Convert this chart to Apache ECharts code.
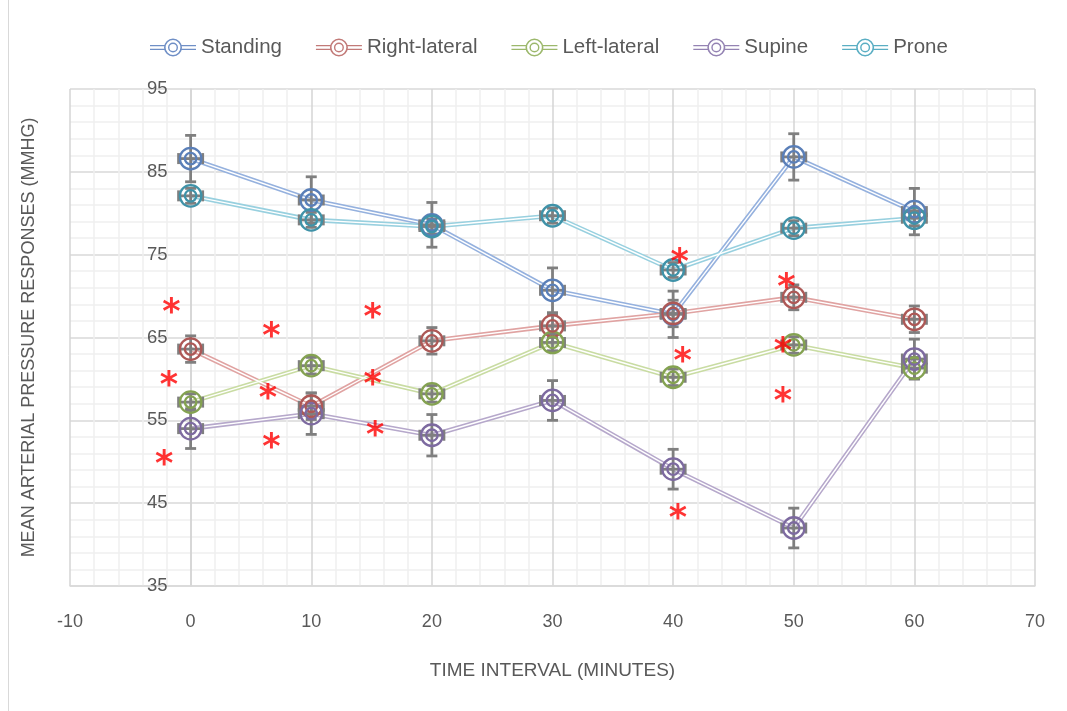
<!DOCTYPE html>
<html>
<head>
<meta charset="utf-8">
<script src="https://cdn.jsdelivr.net/npm/echarts@6/dist/echarts.min.js"></script>
<style>
html,body{margin:0;padding:0;background:#fff;}
#chart{width:1067px;height:711px;}
</style>
</head>
<body>
<div id="chart"></div>
<script>
// ---- data ----
const timePoints = [0, 10, 20, 30, 40, 50, 60];
const seriesNames = ['Standing', 'Right-lateral', 'Left-lateral', 'Supine', 'Prone'];
const standing     = [86.6, 81.6, 78.6, 70.7, 67.8, 86.8, 80.2];
const rightLateral = [63.6, 56.7, 64.6, 66.4, 67.9, 69.85, 67.2];
const leftLateral  = [57.2, 61.6, 58.2, 64.4, 60.2, 64.1, 61.3];
const supine       = [54.0, 55.8, 53.2, 57.4, 49.1, 42.0, 62.4];
const prone        = [82.1, 79.2, 78.4, 79.7, 73.15, 78.2, 79.4];
// vertical error (mmHg) and horizontal error (minutes)
const standingErr     = [2.8, 2.8, 2.7, 2.7, 2.8, 2.8, 2.8];
const rightLateralErr = [1.6, 1.6, 1.6, 1.4, 1.6, 1.5, 1.6];
const leftLateralErr  = [1.0, 1.0, 1.0, 1.0, 1.0, 1.0, 1.3];
const supineErr       = [2.4, 2.5, 2.5, 2.4, 2.4, 2.4, 2.4];
const proneErr        = [0.9, 0.9, 0.9, 0.9, 0.9, 0.9, 0.9];
const timeErr = 1;
// significance markers (*) positions [time, mmHg]
const asterisks = [
  [-1.6, 69.1], [6.7, 66.2], [15.1, 68.5],
  [-1.8, 60.3], [6.4, 58.7], [15.1, 60.35],
  [-2.2, 50.7], [6.7, 52.7], [15.3, 54.2],
  [40.55, 75.1], [40.8, 63.2], [40.4, 44.2],
  [49.4, 72.05], [49.1, 64.3], [49.1, 58.3]
];
const xTicks = {min: -10, max: 70, interval: 10};
const yTicks = {min: 35, max: 95, interval: 10};

// ---- styling ----
const values = [standing, rightLateral, leftLateral, supine, prone];
const errs = [standingErr, rightLateralErr, leftLateralErr, supineErr, proneErr];
const lineColors = ['#95b1de', '#e0a3a2', '#c9dca3', '#b6a8cb', '#98d0df'];
const markColors = ['#5a7fb8', '#ad5856', '#84a251', '#7d6aa0', '#3f92a8'];
const legendColors = ['#6f8fc6', '#c27a78', '#9cb86c', '#9483b3', '#5aaec3'];
const fontFam = '"Liberation Sans", Arial, sans-serif';
const txt = '#595959';

const legendPath = 'path://M0,-2.6L14.5,-2.6L14.5,-1.2L0,-1.2Z M0,1.2L14.5,1.2L14.5,2.6L0,2.6Z ' +
  'M31.5,-2.6L46,-2.6L46,-1.2L31.5,-1.2Z M31.5,1.2L46,1.2L46,2.6L31.5,2.6Z ' +
  'M23,-9A9,9 0 1,1 23,9A9,9 0 1,1 23,-9Z M23,-7.4A7.4,7.4 0 1,0 23,7.4A7.4,7.4 0 1,0 23,-7.4Z ' +
  'M23,-5A5,5 0 1,1 23,5A5,5 0 1,1 23,-5Z M23,-3.6A3.6,3.6 0 1,0 23,3.6A3.6,3.6 0 1,0 23,-3.6Z';

const series = [];
seriesNames.forEach((name, k) => {
  const pts = timePoints.map((t, i) => [t, values[k][i]]);
  series.push({
    name: name, type: 'line', data: pts, symbol: 'none', z: 2,
    lineStyle: {color: lineColors[k], width: 4.6},
    itemStyle: {color: legendColors[k]},
    emphasis: {disabled: true}, animation: false
  });
});
seriesNames.forEach((name, k) => {
  const pts = timePoints.map((t, i) => [t, values[k][i]]);
  series.push({
    name: name + '_inner', type: 'line', data: pts, symbol: 'none', z: 3,
    lineStyle: {color: '#ffffff', width: 1.4},
    emphasis: {disabled: true}, animation: false, silent: true
  });
});
seriesNames.forEach((name, k) => {
  const pts = timePoints.map((t, i) => [t, values[k][i], errs[k][i], timeErr]);
  series.push({
    name: name + '_err', type: 'custom', z: 4, data: pts, animation: false, silent: true,
    renderItem: function (params, api) {
      const x = api.value(0), y = api.value(1), e = api.value(2), xe = api.value(3);
      const top = api.coord([x, y + e]), bot = api.coord([x, y - e]);
      const l = api.coord([x - xe, y]), r = api.coord([x + xe, y]);
      const cap = 5.5;
      const st = {stroke: '#7f7f7f', lineWidth: 2.8, fill: null};
      const ln = (x1, y1, x2, y2) => ({type: 'line', shape: {x1, y1, x2, y2}, style: st});
      return {type: 'group', children: [
        ln(top[0], top[1], bot[0], bot[1]),
        ln(top[0] - cap, top[1], top[0] + cap, top[1]),
        ln(bot[0] - cap, bot[1], bot[0] + cap, bot[1]),
        ln(l[0], l[1], r[0], r[1]),
        ln(l[0], l[1] - cap, l[0], l[1] + cap),
        ln(r[0], r[1] - cap, r[0], r[1] + cap)
      ]};
    },
    encode: {x: 0, y: 1}
  });
});
[21.5, 11.5].forEach((sz) => {
  seriesNames.forEach((name, k) => {
    const pts = timePoints.map((t, i) => [t, values[k][i]]);
    series.push({
      name: name + '_mark' + sz, type: 'scatter', data: pts, z: 5, symbol: 'circle', symbolSize: sz,
      itemStyle: {color: 'rgba(255,255,255,0)', borderColor: markColors[k], borderWidth: 2.3, opacity: 1},
      emphasis: {disabled: true}, animation: false, silent: true
    });
  });
});
series.push({
  name: 'sig', type: 'scatter', data: asterisks, z: 6, symbol: 'circle', symbolSize: 1,
  itemStyle: {color: 'rgba(0,0,0,0)'},
  label: {show: true, position: 'inside', formatter: '*', color: '#ff0000',
    fontSize: 35, fontWeight: 'bold', fontFamily: '"DejaVu Sans", sans-serif', offset: [0, 10]},
  emphasis: {disabled: true}, animation: false, silent: true
});

const option = {
  backgroundColor: '#ffffff',
  animation: false,
  textStyle: {fontFamily: fontFam},
  graphic: [{type: 'line', shape: {x1: 8.5, y1: 0, x2: 8.5, y2: 711}, style: {stroke: '#d9d9d9', lineWidth: 1}, silent: true}],
  legend: {
    top: 32, left: 145, itemWidth: 46, itemHeight: 18, itemGap: 34,
    textStyle: {color: txt, fontSize: 20.5, fontFamily: fontFam},
    data: seriesNames.map((n, k) => ({name: n, icon: legendPath, itemStyle: {color: legendColors[k]}})),
    selectedMode: false
  },
  grid: {left: 70, right: 32, top: 89, bottom: 125, containLabel: false, outerBoundsMode: 'none'},
  xAxis: {
    type: 'value', min: xTicks.min, max: xTicks.max, interval: xTicks.interval,
    name: 'TIME INTERVAL (MINUTES)', nameLocation: 'middle', nameGap: 75,
    nameTextStyle: {color: txt, fontSize: 19, fontFamily: fontFam},
    axisLine: {show: true, onZero: false, lineStyle: {color: '#d9d9d9', width: 1.5}},
    axisTick: {show: false},
    axisLabel: {color: txt, fontSize: 18, margin: 27, fontFamily: fontFam},
    splitLine: {show: true, lineStyle: {color: '#d4d4d4', width: 1.5}},
    minorTick: {show: false, splitNumber: 5},
    minorSplitLine: {show: true, lineStyle: {color: '#f0f0f0', width: 1.5}}
  },
  yAxis: {
    type: 'value', min: yTicks.min, max: yTicks.max, interval: yTicks.interval,
    position: 'left', offset: -120.6,
    name: 'MEAN ARTERIAL PRESSURE RESPONSES (MMHG)', nameLocation: 'middle', nameGap: 153,
    nameTextStyle: {color: txt, fontSize: 18, fontFamily: fontFam},
    axisLine: {show: true, onZero: false, lineStyle: {color: '#d4d4d4', width: 1.5}},
    axisTick: {show: false},
    axisLabel: {color: txt, fontSize: 18.5, margin: 23, fontFamily: fontFam},
    splitLine: {show: true, lineStyle: {color: '#d9d9d9', width: 1.5}},
    minorTick: {show: false, splitNumber: 5},
    minorSplitLine: {show: true, lineStyle: {color: '#f0f0f0', width: 1.5}}
  },
  series: series
};
const chart = echarts.init(document.getElementById('chart'), null, {renderer: 'canvas'});
chart.setOption(option);
</script>
</body>
</html>
